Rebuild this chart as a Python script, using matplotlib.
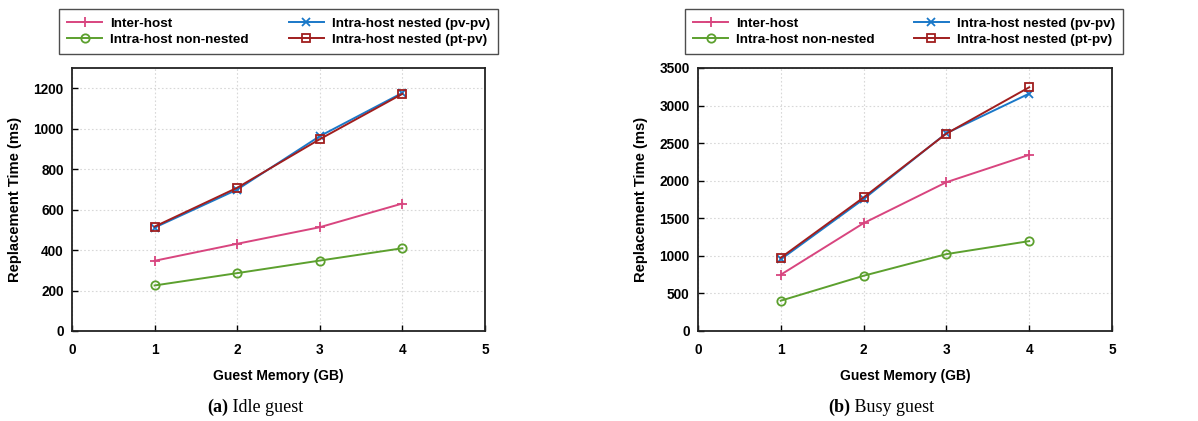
import matplotlib
matplotlib.use("Agg")
import matplotlib.pyplot as plt

memory_gb = [1, 2, 3, 4]
labels = ["Inter-host", "Intra-host non-nested",
          "Intra-host nested (pv-pv)", "Intra-host nested (pt-pv)"]

idle_inter = [347, 431, 513, 630]
idle_nonnested = [225, 286, 348, 409]
idle_pvpv = [511, 699, 963, 1177]
idle_ptpv = [516, 708, 948, 1172]

busy_inter = [749, 1435, 1980, 2344]
busy_nonnested = [403, 735, 1023, 1196]
busy_pvpv = [953, 1755, 2632, 3159]
busy_ptpv = [975, 1777, 2627, 3243]

xticks = [0, 1, 2, 3, 4, 5]
idle_yticks = [0, 200, 400, 600, 800, 1000, 1200]
busy_yticks = [0, 500, 1000, 1500, 2000, 2500, 3000, 3500]

colors = ["#d8457f", "#5ca02e", "#1a78c8", "#a01e1e"]
markers = ["+", "o", "x", "s"]
msizes = [7, 6, 6, 6]

plt.rcParams["font.family"] = ["Liberation Sans", "DejaVu Sans"]

fig = plt.figure(figsize=(11.98, 4.21), dpi=100)

panels = [
    (0.0601, 0.3447, [idle_inter, idle_nonnested, idle_pvpv, idle_ptpv], idle_yticks, 1300,
     0.0492, 0.3665, "(a)", " Idle guest", 0.213),
    (0.5826, 0.3456, [busy_inter, busy_nonnested, busy_pvpv, busy_ptpv], busy_yticks, 3500,
     0.5718, 0.3656, "(b)", " Busy guest", 0.7355),
]

serif = ["Liberation Serif", "DejaVu Serif"]
captions = []

for (x0, w, series, yt, ymax, lx, lw, cap_b, cap_t, capx) in panels:
    ax = fig.add_axes([x0, 0.2138, w, 0.6247])
    handles = []
    for s, c, m, ms, lab in zip(series, colors, markers, msizes, labels):
        if m in ("o", "s"):
            h, = ax.plot(memory_gb, s, color=c, marker=m, markersize=ms,
                         markerfacecolor="none", markeredgewidth=1.3,
                         linewidth=1.4, label=lab)
        else:
            h, = ax.plot(memory_gb, s, color=c, marker=m, markersize=ms,
                         markeredgewidth=1.3, linewidth=1.4, label=lab)
        handles.append(h)
    ax.set_xlim(0, 5)
    ax.set_ylim(0, ymax)
    ax.set_xticks(xticks)
    ax.set_yticks(yt)
    ax.grid(True, linestyle=(0, (1.5, 2)), color="#d8d8d8", linewidth=0.8)
    ax.set_axisbelow(True)
    for sp in ax.spines.values():
        sp.set_linewidth(1.3)
        sp.set_color("#222222")
    ax.tick_params(direction="in", length=4, width=1.0, top=False, right=False,
                   labelsize=9.8)
    ax.tick_params(axis="x", pad=9)
    ax.tick_params(axis="y", pad=6)
    for tl in ax.get_xticklabels() + ax.get_yticklabels():
        tl.set_fontweight("bold")
    ax.set_xlabel("Guest Memory (GB)", fontsize=10, fontweight="bold", labelpad=8)
    ax.set_ylabel("Replacement Time (ms)", fontsize=10.6, fontweight="bold", labelpad=8)

    leg = fig.legend(handles=handles, ncol=2, loc="center",
                     bbox_to_anchor=(lx, 0.8646, lw, 0.1211), mode="expand",
                     frameon=True, fancybox=False,
                     edgecolor="#222222", handlelength=2.6, handletextpad=0.6,
                     borderaxespad=0, borderpad=0.6,
                     labelspacing=0.25, prop={"weight": "bold", "size": 9.7})
    leg.get_frame().set_linewidth(1.0)

    t1 = fig.text(capx, 0.033, cap_b, ha="left", va="center", fontsize=13,
                  fontweight="bold", family=serif)
    t2 = fig.text(capx, 0.033, cap_t, ha="left", va="center", fontsize=13,
                  family=serif)
    captions.append((t1, t2, capx))

fig.canvas.draw()
r = fig.canvas.get_renderer()
W = fig.bbox.width
for t1, t2, capx in captions:
    w1 = t1.get_window_extent(r).width / W
    w2 = t2.get_window_extent(r).width / W
    start = capx - (w1 + w2) / 2
    t1.set_x(start)
    t2.set_x(start + w1)

fig.savefig("out.png", dpi=100)
